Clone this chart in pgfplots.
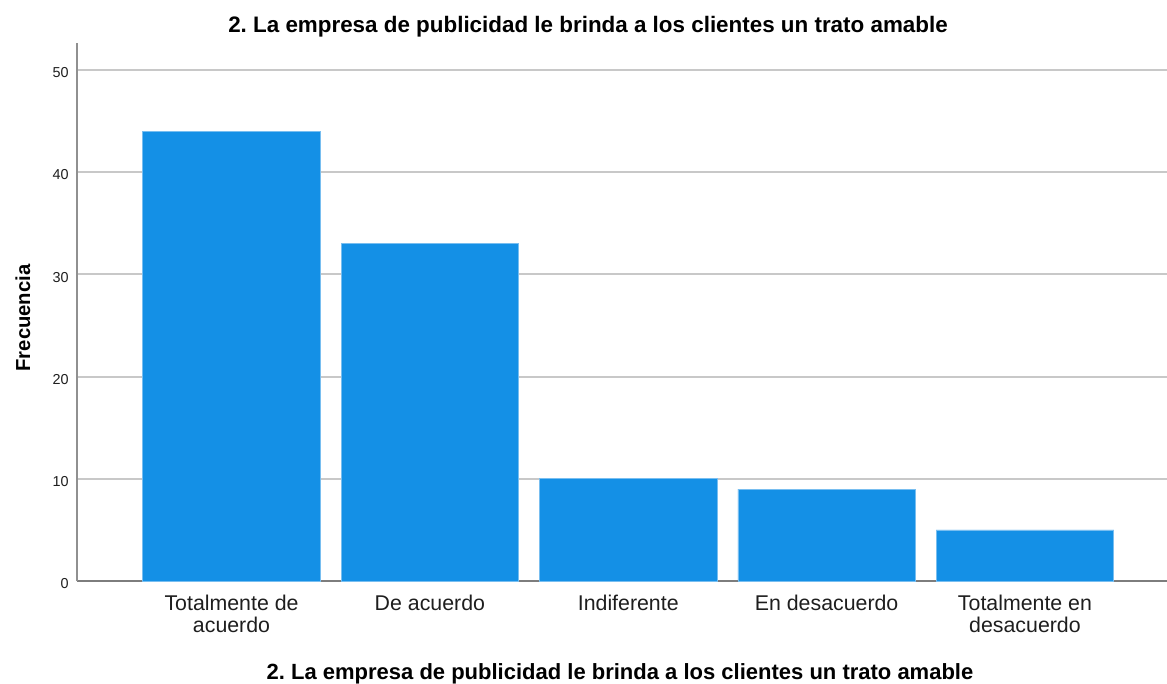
\documentclass[border=0pt]{standalone}
\usepackage{fontspec}
\setmainfont{Liberation Sans}
\usepackage{pgfplots}
\pgfplotsset{compat=1.18}
\definecolor{barblue}{RGB}{20,144,230}
\definecolor{baredge}{RGB}{120,190,240}
\definecolor{gridgray}{RGB}{200,200,200}
\definecolor{axgray}{RGB}{125,125,125}
\definecolor{ink}{RGB}{30,30,30}
\frenchspacing

\begin{document}
\begin{tikzpicture}
% 1 px of the reference = 0.75pt
\useasboundingbox (0,0) rectangle (875.25pt,512.25pt);
\begin{axis}[
  at={(57.75pt,76.5pt)}, anchor=south west,
  scale only axis, width=817.5pt, height=403.5pt,
  xmin=-0.779, xmax=4.716, ymin=0, ymax=52.64,
  axis x line*=bottom, axis y line*=left,
  x axis line style={-, draw=axgray, line width=1.4pt},
  y axis line style={-, draw=axgray!85, line width=1pt},
  major tick length=0pt,
  ytick={0,10,20,30,40,50},
  xtick={0,1,2,3,4},
  xticklabels={{Totalmente de\\acuerdo}, {De acuerdo}, {Indiferente},
               {En desacuerdo}, {Totalmente en\\desacuerdo}},
  /pgf/number format/assume math mode=true,
  yticklabel style={font=\fontsize{10.8}{12}\selectfont, text=ink,
                    anchor=east, inner sep=0pt, xshift=-6pt, yshift=-2pt},
  xticklabel style={font=\fontsize{16}{16.5}\selectfont, text=ink,
                    align=center, anchor=north, inner sep=0pt, yshift=-10.5pt},
  ymajorgrids,
  major grid style={draw=gridgray, line width=1.4pt},
  ybar, bar width=0.895,
]
\addplot[fill=barblue, draw=baredge, line width=0.5pt, bar shift=0pt]
  coordinates {(0,44) (1,33) (2,10) (3,9) (4,5)};
\end{axis}
\node[anchor=base, font=\fontsize{16.8}{19}\selectfont\bfseries, text=black]
  at (441pt,487.5pt) {2. La empresa de publicidad le brinda a los clientes un trato amable};
\node[anchor=base, font=\fontsize{16.5}{19}\selectfont\bfseries, text=black]
  at (465pt,3pt) {2. La empresa de publicidad le brinda a los clientes un trato amable};
\node[anchor=base, rotate=90, font=\fontsize{15.2}{18}\selectfont\bfseries, text=black]
  at (22.5pt,273.75pt) {Frecuencia};
\end{tikzpicture}
\end{document}
